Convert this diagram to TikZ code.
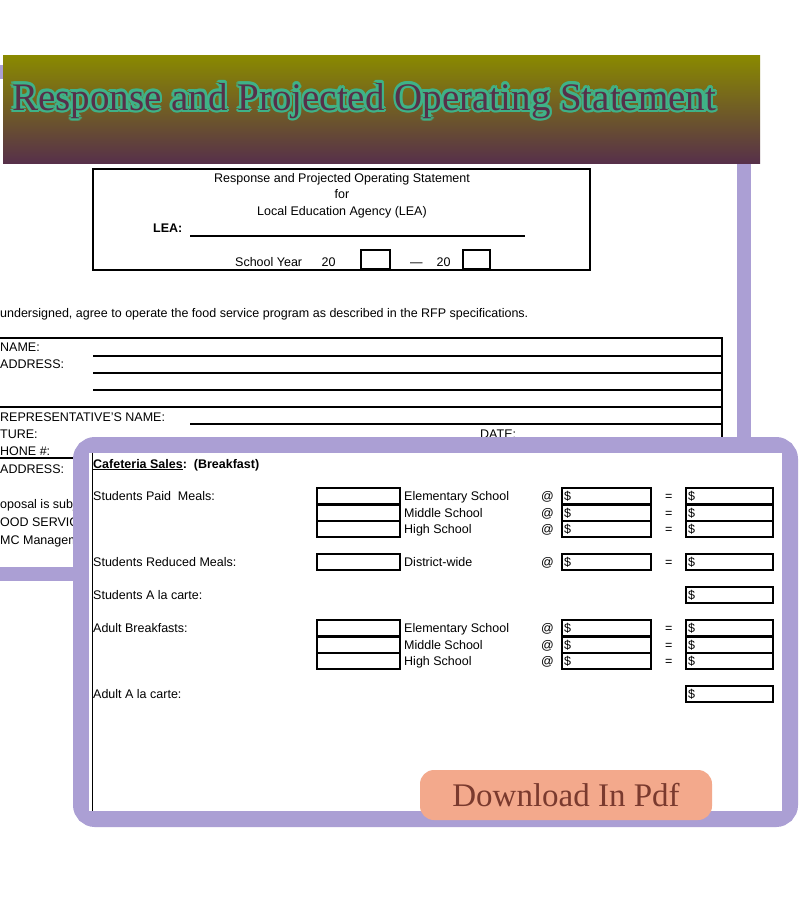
\documentclass[tikz,border=0pt]{standalone}
\usepackage{fontspec}
\setmainfont{Liberation Sans}
\newfontfamily\titlefont{Liberation Serif}
\usetikzlibrary{positioning}
\definecolor{lilac}{HTML}{AB9FD4}
\definecolor{olive}{HTML}{8A8A00}
\definecolor{plum}{HTML}{57304A}
\definecolor{mint}{HTML}{3FB287}
\definecolor{peach}{HTML}{F3A98C}
\definecolor{rust}{HTML}{7A3A2E}
\tikzset{
  formtext/.style={anchor=base west,inner sep=0pt,font=\fontsize{12.5}{14}\selectfont},
  field/.style={draw,line width=1.3pt},
  rule/.style={line width=1.3pt}
}
\newcommand\titletext{\titlefont\fontsize{39}{44}\selectfont Response and Projected Operating Statement}
\begin{document}
\begin{tikzpicture}[x=1pt,y=-1pt]
\useasboundingbox[fill=white] (0,0) rectangle (800,900);
% back frame
\draw[lilac,line width=14pt] (-10,72) rectangle (744,574);
\fill[white] (-3,79) rectangle (737,567);
% banner
\shade[top color=olive,bottom color=plum] (3,55) rectangle (760,163);
\foreach \a in {0,30,...,330}
  \node[anchor=base west,inner sep=0pt,text=mint] at ({12+2.5*cos(\a)},{110+2.5*sin(\a)}) {\titletext};
\node (title)[anchor=base west,inner sep=0pt,text=plum] at (12,110) {\titletext};
% header box
\draw[rule] (93,169) rectangle (590,270);
\node[formtext,anchor=base] (hd1) at (342,182) {Response and Projected Operating Statement};
\node[formtext,anchor=base] (hd2) at (342,198) {for};
\node[formtext,anchor=base] (hd3) at (342,215) {Local Education Agency (LEA)};
\node[formtext,font=\bfseries\fontsize{12.5}{14}\selectfont] (lea) at (153,232) {LEA:};
\draw[rule] (190,236) -- (525,236);
\node[formtext] (sy) at (235,266) {School Year\quad\ \ 20};
\draw[field] (361,250) rectangle (390,269);
\node[formtext] (sep) at (410,266) {---\ \ \ \ 20};
\draw[field] (463,250) rectangle (490,269);
% contractor block
\node[formtext] (agree) at (0,317) {undersigned, agree to operate the food service program as described in the RFP specifications.};
\draw[rule] (0,338) -- (722,338) -- (722,450);
\foreach \y in {356,373,390} \draw[rule] (93,\y) -- (722,\y);
\draw[rule] (0,407) -- (722,407);
\draw[rule] (190,424) -- (722,424);
\draw[rule] (93,441) -- (438,441);
\draw[rule] (525,441) -- (722,441);
\draw[rule] (0,458) -- (92,458);
\node[formtext] (nm) at (0,351) {NAME:};
\node[formtext] (ad) at (0,368) {ADDRESS:};
\node[formtext] (rep) at (0,421) {REPRESENTATIVE'S NAME:};
\node[formtext] (sig) at (0,438) {TURE:};
\node[formtext] (ph) at (0,455) {HONE \#:};
\node[formtext] (em) at (0,473) {ADDRESS:};
\node[formtext] (dt) at (480,438) {DATE:};
\node[formtext] (fx) at (478,455) {FAX \#:};
\node[formtext] (p1) at (0,508) {oposal is subject};
\node[formtext] (p2) at (0,526) {OOD SERVICE};
\node[formtext] (p3) at (0,544) {MC Management};
% front card
\draw[lilac,line width=16pt,rounded corners=14pt] (81,445) rectangle (790,819);
\fill[white] (89,453) rectangle (782,811);
\draw[line width=1pt] (92,453) -- (92,811);
\node[formtext,font=\bfseries\fontsize{12.5}{14}\selectfont] (cs) at (93,468) {\underline{Cafeteria Sales}:\ \ (Breakfast)};
\foreach \y/\lab in {496/{Students Paid\ \ Meals:},562/{Students Reduced Meals:},595/{Students A la carte:},628/{Adult Breakfasts:},694/{Adult A la carte:}}
  \node[formtext] at (93,\y+4) {\lab};
% three-school rows
\foreach \y in {496,513,529,628,645,661}{
  \draw[field] (317,\y-8) rectangle (400,\y+8);
  \node[formtext] at (541,\y+4) {@};
  \draw[field] (562,\y-8) rectangle (651,\y+8);
  \node[formtext,anchor=base west] at (564,\y+4) {\$};
  \node[formtext] at (665,\y+4) {=};
  \draw[field] (686,\y-8) rectangle (773,\y+8);
  \node[formtext] at (688,\y+4) {\$};
}
\foreach \y/\s in {496/Elementary,513/Middle,529/High,628/Elementary,645/Middle,661/High}
  \node[formtext] at (404,\y+4) {\s\ School};
% district-wide row
\draw[field] (317,554) rectangle (400,570);
\node[formtext] at (404,566) {District-wide};
\node[formtext] at (541,566) {@};
\draw[field] (562,554) rectangle (651,570);
\node[formtext] at (564,566) {\$};
\node[formtext] at (665,566) {=};
\draw[field] (686,554) rectangle (773,570);
\node[formtext] at (688,566) {\$};
% a la carte totals
\foreach \y in {595,694}{
  \draw[field] (686,\y-8) rectangle (773,\y+8);
  \node[formtext] at (688,\y+4) {\$};
}
% download badge
\node (pdf)[fill=peach,rounded corners=14pt,minimum width=292pt,minimum height=50pt,
  text=rust,font=\titlefont\fontsize{33}{36}\selectfont] at (566,795) {Download In Pdf};
\end{tikzpicture}
\end{document}
